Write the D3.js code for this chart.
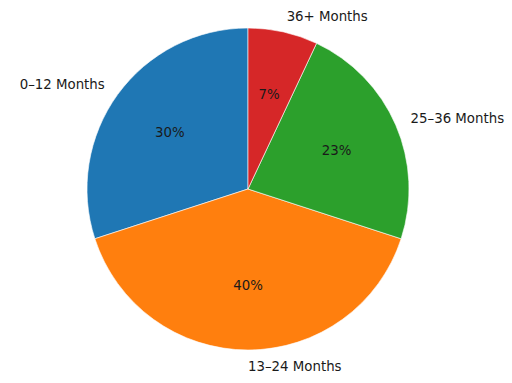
<!DOCTYPE html>
<html><head><meta charset="utf-8">
<script src="https://cdn.jsdelivr.net/npm/d3@7"></script>
<style>body{margin:0;background:#fff}svg{display:block}text{font-family:"DejaVu Sans",sans-serif;font-size:13.33px;fill:#1a1a1a}</style>
</head><body>
<svg id="c" width="512" height="383"></svg>
<script>
const categories = ["0–12 Months", "13–24 Months", "25–36 Months", "36+ Months"];
const values = [30, 40, 23, 7];
const colors = ["#1f77b4", "#ff7f0e", "#2ca02c", "#d62728"];

const W = 512, H = 383, cx = 248, cy = 189, R = 161;
const svg = d3.select("#c");
const g = svg.append("g").attr("transform", `translate(${cx},${cy})`);

const data = categories.map((c, i) => ({cat: c, v: values[i], col: colors[i]}));
const pie = d3.pie().value(d => d.v).sort(null).startAngle(0).endAngle(-2 * Math.PI);
const arcs = pie(data);
const arc = d3.arc().innerRadius(0).outerRadius(R);

g.selectAll("path").data(arcs).join("path")
  .attr("d", arc)
  .attr("fill", d => d.data.col)
  .attr("stroke", "#fff").attr("stroke-width", 0.6);

const total = d3.sum(values);
function pos(d, r) {
  const a = (d.startAngle + d.endAngle) / 2;
  return [r * Math.sin(a), -r * Math.cos(a)];
}
g.selectAll("text.lab").data(arcs).join("text")
  .attr("class", "lab")
  .each(function(d) {
    const [x, y] = pos(d, R * 1.1);
    d3.select(this).attr("x", x).attr("y", y)
      .attr("dominant-baseline", "central")
      .attr("text-anchor", x >= -1e-6 ? "start" : "end")
      .text(d.data.cat);
  });
g.selectAll("text.pct").data(arcs).join("text")
  .attr("class", "pct")
  .each(function(d) {
    const [x, y] = pos(d, R * 0.6);
    d3.select(this).attr("x", x).attr("y", y)
      .attr("dominant-baseline", "central")
      .attr("text-anchor", "middle")
      .text(Math.round(d.data.v / total * 100) + "%");
  });
</script>
</body></html>
